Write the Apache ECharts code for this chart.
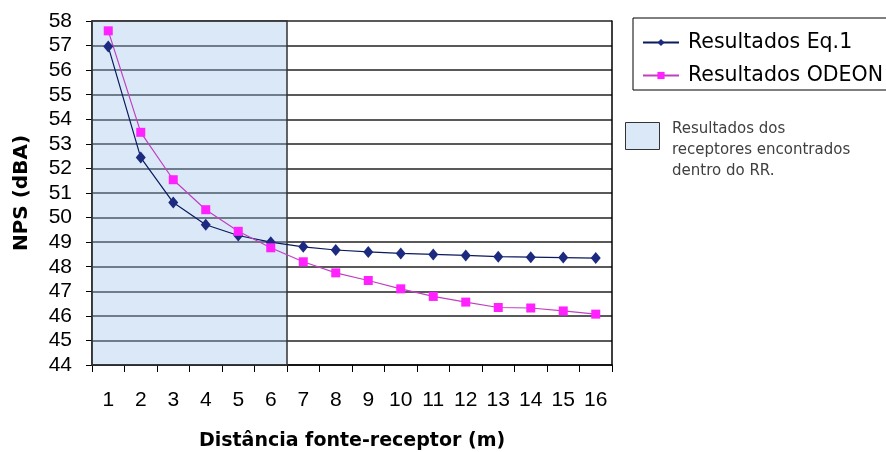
<!DOCTYPE html>
<html>
<head>
<meta charset="utf-8">
<script src="https://cdn.jsdelivr.net/npm/echarts@6/dist/echarts.min.js"></script>
<style>html,body{margin:0;padding:0;background:#fff}#c{width:886px;height:452px}</style>
</head>
<body>
<div id="c"></div>
<script>
var categories = ['1','2','3','4','5','6','7','8','9','10','11','12','13','14','15','16'];
var eq1 = [56.96, 52.44, 50.61, 49.71, 49.27, 49.0, 48.81, 48.68, 48.6, 48.54, 48.5, 48.46, 48.41, 48.39, 48.37, 48.35];
var odeon = [57.6, 53.47, 51.54, 50.32, 49.44, 48.77, 48.2, 47.75, 47.44, 47.1, 46.79, 46.56, 46.34, 46.32, 46.2, 46.07];
var seriesNames = ['Resultados Eq.1', 'Resultados ODEON'];
var rrCount = 6; // receptors inside RR (categories 1..6)
var yMin = 44, yMax = 58, yStep = 1;
var noteText = 'Resultados dos\nreceptores encontrados\ndentro do RR.';

var chart = echarts.init(document.getElementById('c'));
var font = '"Liberation Sans", Arial, sans-serif';
var wide = '"DejaVu Sans", sans-serif';
chart.setOption({
  animation: false,
  backgroundColor: '#fff',
  grid: { left: 92, right: 274, top: 21, bottom: 87, show: false, containLabel: false, outerBoundsMode: 'none' },
  xAxis: [{
    type: 'category', data: categories, boundaryGap: true,
    name: 'Distância fonte-receptor (m)', nameLocation: 'middle', nameGap: 67,
    nameTextStyle: { fontFamily: wide, fontSize: 19, fontWeight: 'bold', color: '#000' },
    axisLine: { lineStyle: { color: '#000', width: 1.5 } },
    axisTick: { show: true, length: 7, alignWithLabel: false, lineStyle: { color: '#000' } },
    axisLabel: { fontFamily: font, fontSize: 21, color: '#000', margin: 25, interval: 0 },
    splitLine: { show: false }
  }, {
    type: 'value', min: 0, max: categories.length, show: false
  }],
  yAxis: [{
    type: 'value', min: yMin, max: yMax, interval: yStep,
    name: 'NPS (dBA)', nameLocation: 'middle', nameGap: 60, nameRotate: 90,
    nameTextStyle: { fontFamily: wide, fontSize: 20, fontWeight: 'bold', color: '#000' },
    axisLine: { show: true, lineStyle: { color: '#000', width: 1.5 } },
    axisTick: { show: true, length: 6, lineStyle: { color: '#000' } },
    axisLabel: { fontFamily: font, fontSize: 21, color: '#000', margin: 20 },
    splitLine: { show: true, lineStyle: { color: '#222', width: 1.5 } }
  }, {
    type: 'value', min: yMin, max: yMax, position: 'right',
    axisLine: { show: true, lineStyle: { color: '#000', width: 1.5 } },
    axisTick: { show: false }, axisLabel: { show: false }, splitLine: { show: false }
  }],
  legend: {
    data: seriesNames, orient: 'vertical', left: 633, top: 18,
    backgroundColor: '#fff', borderColor: '#000', borderWidth: 1,
    padding: [14, 24, 4, 9], itemGap: 12, itemWidth: 36, itemHeight: 9,
    textStyle: { fontFamily: wide, fontSize: 20.5, color: '#000', padding: [0, 0, 0, 4] }
  },
  graphic: [
    { type: 'rect', left: 625, top: 122, shape: { width: 34, height: 27 },
      style: { fill: '#dbe8f8', stroke: '#333', lineWidth: 1 } },
    { type: 'text', left: 672, top: 119,
      style: { text: noteText, font: '15px ' + wide, fill: '#404040', lineHeight: 21 } }
  ],
  series: [{
    type: 'line', xAxisIndex: 1, yAxisIndex: 0, data: [], silent: true,
    markArea: { silent: true,
      itemStyle: { color: 'rgba(152,189,235,0.35)', borderColor: '#333', borderWidth: 1.5 },
      data: [[{ xAxis: 0, yAxis: yMin }, { xAxis: rrCount, yAxis: yMax }]] }
  }, {
    name: seriesNames[0], type: 'line', data: eq1,
    symbol: 'diamond', symbolSize: [10, 12],
    lineStyle: { color: '#0a1a5c', width: 1.2 },
    itemStyle: { color: '#1c2a80' }
  }, {
    name: seriesNames[1], type: 'line', data: odeon,
    symbol: 'rect', symbolSize: 9,
    lineStyle: { color: '#c040c0', width: 1.2 },
    itemStyle: { color: '#ff22ff' }
  }]
});
</script>
</body>
</html>
